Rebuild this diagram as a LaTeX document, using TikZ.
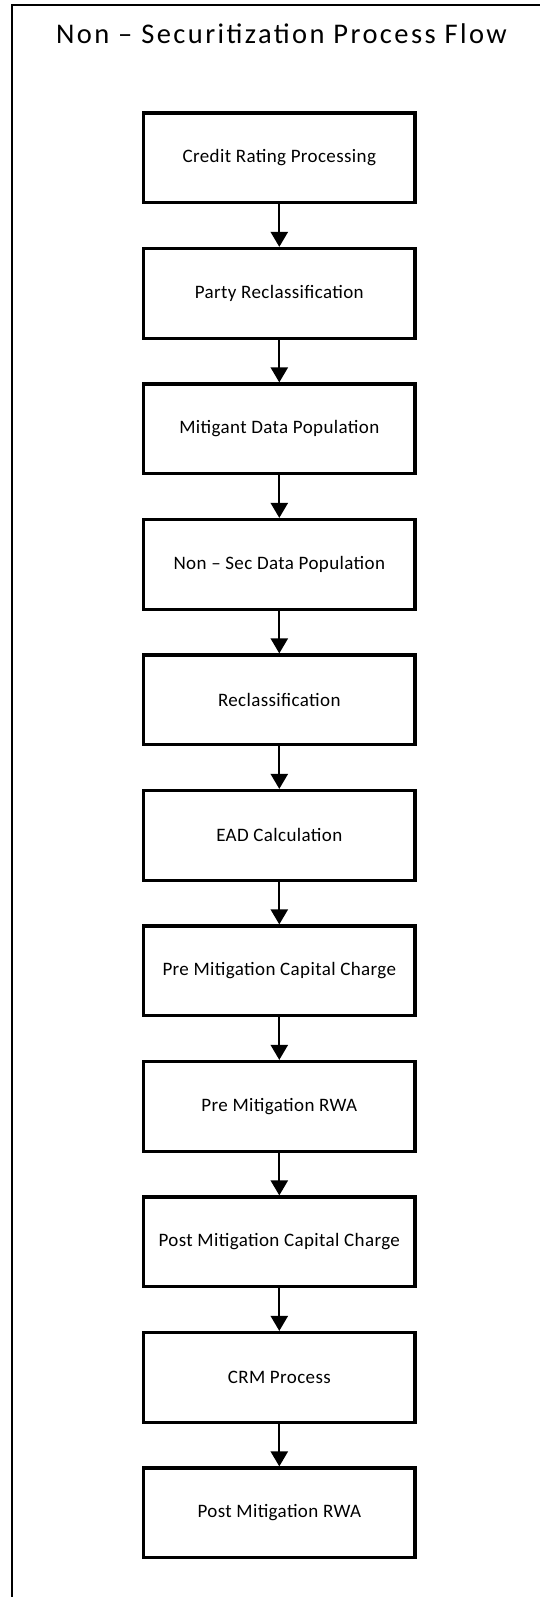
\documentclass[tikz,border=0pt]{standalone}
\usepackage{fontspec}
\setmainfont{Carlito}
\usetikzlibrary{arrows.meta}
\begin{document}
\begin{tikzpicture}[x=1pt,y=-1pt,
  stepbox/.style={draw, line width=3.2pt, minimum width=271.4pt, minimum height=89.7pt, inner sep=0pt,
    font=\fontsize{19}{22}\selectfont\addfontfeature{LetterSpace=2}},
  flow/.style={line width=2.3pt, -{Triangle[width=17pt,length=15pt]}},
  titlestyle/.style={inner sep=0pt, anchor=base, font=\fontsize{28.5}{32}\selectfont\addfontfeature{LetterSpace=8.5}}]
\useasboundingbox (0,0) rectangle (540,1597);
\fill[white] (0,0) rectangle (540,1597);
\draw[line width=2pt] (12,1597) -- (12,5) -- (541,5);
\node[titlestyle] (title) at (281.5,43.3) {Non – Securitization Process Flow};
\foreach \i/\t in {0/Credit Rating Processing,1/Party Reclassification,2/Mitigant Data Population,
  3/Non – Sec Data Population,4/Reclassification,5/EAD Calculation,6/Pre Mitigation Capital Charge,
  7/Pre Mitigation RWA,8/Post Mitigation Capital Charge,9/CRM Process,10/Post Mitigation RWA}
  \node[stepbox] (b\i) at (279.3,{157.85+135.5*\i}) {\t};
\foreach \i [evaluate=\i as \j using int(\i+1)] in {0,...,9}
  \draw[flow] (b\i.south) -- (b\j.north);
\end{tikzpicture}
\end{document}
